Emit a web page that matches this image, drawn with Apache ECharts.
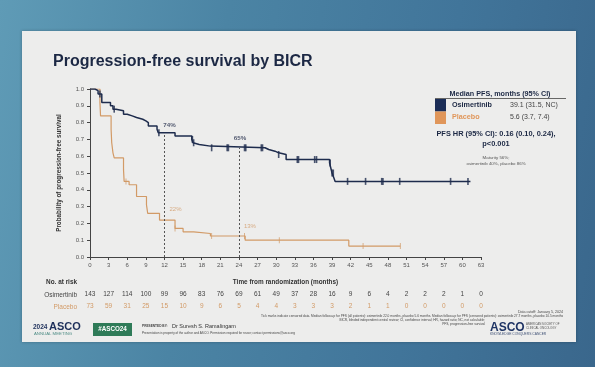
<!DOCTYPE html>
<html>
<head>
<meta charset="utf-8">
<script src="https://cdn.jsdelivr.net/npm/echarts@6/dist/echarts.min.js"></script>
<style>
html,body{margin:0;padding:0;width:595px;height:367px;overflow:hidden;}
#bg{position:absolute;left:0;top:0;width:595px;height:367px;background:linear-gradient(100deg,#5f9bb6 0%,#4b84a4 35%,#41759a 70%,#3a678c 100%);}
#panel{position:absolute;left:22px;top:31px;width:554px;height:311px;background:#ededec;box-shadow:0 0 3px rgba(0,0,0,0.25);}
#chart{position:absolute;left:0;top:0;width:595px;height:367px;}
</style>
</head>
<body>
<div id="bg"></div>
<div id="panel"></div>
<div id="chart"></div>
<script>
// ---- Data ----
const xTicks = [0,3,6,9,12,15,18,21,24,27,30,33,36,39,42,45,48,51,54,57,60,63];
const osiRisk = [143,127,114,100,99,96,83,76,69,61,49,37,28,16,9,6,4,2,2,2,1,0];
const plaRisk = [73,59,31,25,15,10,9,6,5,4,4,3,3,3,2,1,1,0,0,0,0,0];

const osiTime = [0,0.8,1.3,1.9,3.3,3.7,4.2,5.4,6.0,6.8,7.5,8.5,9.0,9.4,10.8,11.0,13.7,16.4,16.6,16.9,17.6,19.4,28.2,28.8,29.8,30.4,31.6,38.6,38.8,39.0,39.3,39.5,61.3];
const osiSurv = [1.0,0.99,0.97,0.92,0.90,0.88,0.87,0.85,0.84,0.83,0.82,0.81,0.80,0.78,0.76,0.74,0.72,0.70,0.68,0.67,0.66,0.65,0.64,0.63,0.62,0.61,0.58,0.56,0.53,0.50,0.47,0.45,0.45];
const osiCensor = [1.6,3.9,11.1,16.5,16.7,19.6,22.1,22.3,24.9,25.1,27.6,27.8,30.4,33.4,33.6,36.2,36.5,38.7,39.0,39.2,41.5,44.4,47.0,47.2,49.9,58.1,60.9];

const plaTime = [0,1.6,1.7,3.4,3.5,3.7,3.9,5.4,5.5,6.3,7.5,9.1,9.3,11.2,13.7,15.0,16.7,19.4,25.0,41.7,50.0];
const plaSurv = [1.0,0.92,0.84,0.76,0.68,0.62,0.59,0.52,0.45,0.43,0.36,0.31,0.26,0.22,0.17,0.15,0.14,0.125,0.10,0.065,0.065];
const plaCensor = [5.8,13.7,19.6,24.9,30.5,44.0,50.0];

const landmarkTime = [12,24];
const osiLandmark = [0.74,0.65];
const plaLandmark = [0.22,0.13];
const osiLandmarkText = ['74%','65%'];
const plaLandmarkText = ['22%','13%'];

// ---- helpers ----
function kmAt(times, surv, t){ let s = surv[0]; for(let i=0;i<times.length;i++){ if(times[i] <= t) s = surv[i]; } return s; }
const osiLine = osiTime.map((t,i)=>[t, osiSurv[i]]);
const plaLine = plaTime.map((t,i)=>[t, plaSurv[i]]);
const osiCens = osiCensor.map(t=>[t, kmAt(osiTime, osiSurv, t)]);
const plaCens = plaCensor.map(t=>[t, kmAt(plaTime, plaSurv, t)]);

const NAVY = '#1e2c4d', ORANGE = '#d29a66', GRAY = '#555';
const FF = '"Liberation Sans", Arial, sans-serif';

const chart = echarts.init(document.getElementById('chart'), null, {renderer:'canvas'});

function riskAxis(arr, offset, color){
  return {type:'value', gridIndex:0, position:'bottom', offset:offset, min:0, max:63, interval:3,
    axisLine:{show:false}, axisTick:{show:false}, splitLine:{show:false},
    axisLabel:{margin:6, fontSize:6.5, fontFamily:FF, color:color,
      formatter:(v)=>{ const i = xTicks.indexOf(v); return i>=0 ? String(arr[i]) : ''; }}};
}

function txt(x,y,text,font,fill,align,valign){
  return {type:'text', silent:true, style:{x:x,y:y,text:text,font:font,fill:fill,textAlign:align||'left',textVerticalAlign:valign||'middle'}};
}

const option = {
  backgroundColor:'transparent',
  animation:false,
  grid:{left:90,right:114,top:89,bottom:110},
  xAxis:[
    {type:'value', min:0, max:63, interval:3,
      name:'Time from randomization (months)', nameLocation:'middle', nameGap:22,
      nameTextStyle:{fontFamily:FF, fontSize:6.4, fontWeight:'bold', color:'#333'},
      axisLine:{lineStyle:{color:'#444', width:1}},
      axisTick:{length:3, lineStyle:{color:'#444'}},
      axisLabel:{margin:5, fontSize:6, fontFamily:FF, color:GRAY},
      splitLine:{show:false}},
    riskAxis(osiRisk, 28, '#444'),
    riskAxis(plaRisk, 40, ORANGE)
  ],
  yAxis:{type:'value', min:0, max:1, interval:0.1,
    name:'Probability of progression-free survival', nameLocation:'middle', nameGap:28, nameRotate:90,
    nameTextStyle:{fontFamily:FF, fontSize:6.3, fontWeight:'bold', color:'#333'},
    axisLine:{show:true, lineStyle:{color:'#444', width:1}},
    axisTick:{show:true, length:3, lineStyle:{color:'#444'}},
    axisLabel:{margin:6, fontSize:6, fontFamily:FF, color:GRAY, formatter:(v)=>v.toFixed(1)},
    splitLine:{show:false}},
  series:[
    {type:'line', name:'Placebo', step:'end', data:plaLine, symbol:'none', z:3,
      lineStyle:{color:ORANGE, width:1.2}},
    {type:'scatter', data:plaCens, symbol:'rect', symbolSize:[0.9,6], z:4,
      itemStyle:{color:ORANGE}},
    {type:'line', name:'Osimertinib', step:'end', data:osiLine, symbol:'none', z:5,
      lineStyle:{color:NAVY, width:1.5},
      markLine:{silent:true, symbol:'none', label:{show:false},
        lineStyle:{color:'#444', type:[2,2], width:0.9},
        data: landmarkTime.map((t,i)=>[{coord:[t,0]},{coord:[t,osiLandmark[i]]}])}},
    {type:'scatter', data:osiCens, symbol:'rect', symbolSize:[1.6,7], z:6,
      itemStyle:{color:NAVY}},
    {type:'scatter', symbolSize:0, z:7, silent:true,
      data: landmarkTime.map((t,i)=>({value:[t, osiLandmark[i]], name:osiLandmarkText[i]})),
      label:{show:true, formatter:'{b}', fontFamily:FF, fontSize:6.2, fontWeight:'bold', color:'#2a3350',
        position:'inside', offset:[0,0]},
      labelLayout:(p)=>({dx: p.dataIndex===0 ? 5 : 1, dy: p.dataIndex===0 ? -7 : -10})},
    {type:'scatter', symbolSize:0, z:7, silent:true,
      data: landmarkTime.map((t,i)=>({value:[t, plaLandmark[i]], name:plaLandmarkText[i]})),
      label:{show:true, formatter:'{b}', fontFamily:FF, fontSize:6, color:ORANGE, position:'inside'},
      labelLayout:(p)=>({dx: 11, dy: p.dataIndex===0 ? -11 : -9})}
  ],
  graphic:[
    txt(53,62,'Progression-free survival by BICR','bold 16px '+FF,'#1c2844'),
    txt(77,282,'No. at risk','bold 6.4px '+FF,'#333','right'),
    txt(77,295,'Osimertinib','6.5px '+FF,'#444','right'),
    txt(77,307,'Placebo','6.5px '+FF,ORANGE,'right'),
    // legend box
    txt(500,94,'Median PFS, months (95% CI)','bold 7.2px '+FF,'#1c2844','center'),
    {type:'line', silent:true, shape:{x1:435,y1:98.5,x2:566,y2:98.5}, style:{stroke:'#444', lineWidth:0.8}},
    {type:'rect', silent:true, shape:{x:435,y:99,width:11,height:12.5}, style:{fill:'#1b2d57'}},
    {type:'rect', silent:true, shape:{x:435,y:111.5,width:11,height:12.5}, style:{fill:'#e0965a'}},
    txt(452,105,'Osimertinib','bold 7.2px '+FF,'#1c2844'),
    txt(510,105,'39.1 (31.5, NC)','7px '+FF,'#444'),
    txt(452,117.5,'Placebo','bold 7.2px '+FF,'#e0965a'),
    txt(510,117.5,'5.6 (3.7, 7.4)','7px '+FF,'#444'),
    txt(496,134,'PFS HR (95% CI): 0.16 (0.10, 0.24),','bold 7.4px '+FF,'#1c2844','center'),
    txt(496,144,'p<0.001','bold 7.4px '+FF,'#1c2844','center'),
    txt(496,157.5,'Maturity 56%;','4.4px '+FF,'#555','center'),
    txt(496,164,'osimertinib 40%, placebo 86%','4.4px '+FF,'#555','center'),
    // footnotes
    txt(563,312,'Data cutoff: January 5, 2024','3.6px '+FF,'#444','right'),
    txt(563,316.5,'Tick marks indicate censored data. Median follow-up for PFS (all patients): osimertinib 22.0 months, placebo 5.6 months. Median follow-up for PFS (censored patients): osimertinib 27.7 months, placebo 10.5 months','3.2px '+FF,'#444','right'),
    txt(485,320.5,'BICR, blinded independent central review; CI, confidence interval; HR, hazard ratio; NC, not calculable;','3.2px '+FF,'#444','right'),
    txt(485,324.5,'PFS, progression-free survival','3.2px '+FF,'#444','right'),
    // footer left
    txt(33,327.5,'2024','bold 6.5px '+FF,'#1d2f5a'),
    txt(49,326.5,'ASCO','bold 11px '+FF,'#1d2f5a'),
    txt(34,334,'ANNUAL MEETING','4.3px '+FF,'#4f8d86'),
    {type:'rect', silent:true, shape:{x:93,y:323,width:39,height:13}, style:{fill:'#2f7b58'}},
    txt(112.5,329.5,'#ASCO24','bold 6.3px '+FF,'#ffffff','center'),
    txt(142,326.5,'PRESENTED BY:','bold 3.2px '+FF,'#444'),
    txt(172,326,'Dr Suresh S. Ramalingam','5.5px '+FF,'#333'),
    txt(142,333,'Presentation is property of the author and ASCO. Permission required for reuse; contact permissions@asco.org','3.1px '+FF,'#444'),
    // footer right logo
    txt(490,327.5,'ASCO','bold 12px '+FF,'#1f3464'),
    txt(526,324.5,'AMERICAN SOCIETY OF','2.9px '+FF,'#555'),
    txt(526,328.5,'CLINICAL ONCOLOGY','2.9px '+FF,'#555'),
    txt(490,334.5,'KNOWLEDGE CONQUERS CANCER','3.3px '+FF,'#3d4f74')
  ]
};
chart.setOption(option);
</script>
</body>
</html>
